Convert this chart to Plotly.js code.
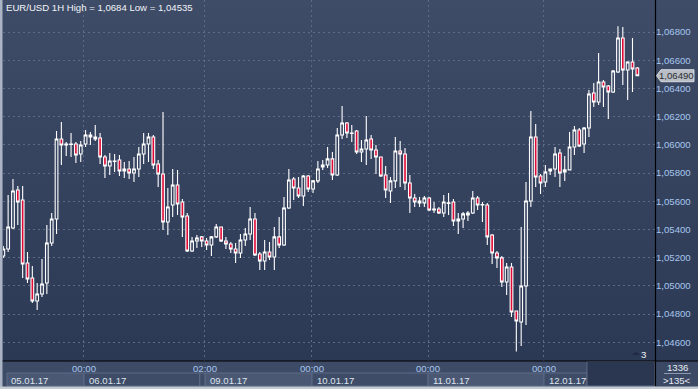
<!DOCTYPE html>
<html>
<head>
<meta charset="utf-8">
<script src="https://cdn.plot.ly/plotly-3.0.1.min.js"></script>
<style>
html,body{margin:0;padding:0;background:#3e4b66;}
#chart{width:698px;height:389px;}
</style>
</head>
<body>
<div id="chart"></div>
<script>
// ---- data (EUR/USD, 1H candles) ----
const open = [1.05212,1.05261,1.05410,1.05680,1.05609,1.05162,1.05056,1.04893,1.04942,1.05020,
1.05304,1.05474,1.06041,1.05999,1.06002,1.06006,1.05935,1.06006,1.06070,1.06055,
1.06048,1.05914,1.05850,1.05882,1.05892,1.05814,1.05829,1.05800,1.05829,1.05935,
1.06006,1.06055,1.05864,1.05793,1.05453,1.05573,1.05715,1.05595,1.05495,1.05247,
1.05318,1.05347,1.05318,1.05290,1.05347,1.05417,1.05318,1.05297,1.05261,1.05233,
1.05325,1.05368,1.05474,1.05226,1.05176,1.05240,1.05205,1.05347,1.05290,1.05552,
1.05758,1.05694,1.05637,1.05779,1.05687,1.05744,1.05843,1.05857,1.05900,1.05786,
1.06070,1.06155,1.06080,1.06098,1.05949,1.05970,1.06041,1.05963,1.05914,1.05786,
1.05673,1.05744,1.05956,1.05935,1.05729,1.05623,1.05602,1.05588,1.05623,1.05538,
1.05545,1.05517,1.05585,1.05595,1.05460,1.05474,1.05502,1.05517,1.05623,1.05573,
1.05573,1.05361,1.05233,1.05198,1.05027,1.05134,1.04822,1.04744,1.04999,1.05602,
1.06055,1.05779,1.05736,1.05814,1.05829,1.05942,1.05807,1.05822,1.05985,1.06105,
1.06006,1.06119,1.06367,1.06304,1.06445,1.06417,1.06375,1.06516,1.06757,1.06531,
1.06587,1.06545];
const high = [1.05283,1.05644,1.05758,1.05708,1.05708,1.05240,1.05141,1.05020,1.05191,1.05432,
1.05517,1.06098,1.06162,1.06020,1.06084,1.06020,1.06027,1.06105,1.06091,1.06141,
1.06084,1.05928,1.05942,1.05935,1.05928,1.05878,1.05885,1.05914,1.05985,1.06084,
1.06084,1.06070,1.05892,1.06233,1.05694,1.05829,1.05822,1.05616,1.05517,1.05347,
1.05361,1.05354,1.05339,1.05354,1.05439,1.05420,1.05347,1.05311,1.05304,1.05368,
1.05410,1.05559,1.05517,1.05240,1.05325,1.05311,1.05417,1.05488,1.05630,1.05829,
1.05772,1.05772,1.05786,1.05786,1.05750,1.05885,1.05892,1.05985,1.05949,1.06119,
1.06275,1.06162,1.06141,1.06105,1.06034,1.06204,1.06070,1.05999,1.05918,1.05850,
1.05772,1.06055,1.06027,1.05978,1.05786,1.05651,1.05630,1.05637,1.05630,1.05595,
1.05559,1.05644,1.05658,1.05616,1.05517,1.05524,1.05531,1.05673,1.05637,1.05595,
1.05588,1.05368,1.05247,1.05212,1.05162,1.05162,1.04825,1.05417,1.05736,1.06240,
1.06148,1.05793,1.05857,1.05832,1.05985,1.05970,1.05921,1.06091,1.06134,1.06119,
1.06126,1.06389,1.06438,1.06651,1.06460,1.06424,1.06531,1.06840,1.06835,1.06592,
1.06757,1.06552];
const low = [1.05198,1.05240,1.05403,1.05432,1.05056,1.05020,1.04879,1.04829,1.04921,1.04942,
1.05283,1.05368,1.05857,1.05921,1.05914,1.05871,1.05878,1.05985,1.05999,1.06027,
1.05864,1.05765,1.05786,1.05807,1.05779,1.05765,1.05758,1.05736,1.05772,1.05864,
1.05878,1.05829,1.05701,1.05396,1.05361,1.05488,1.05502,1.05347,1.05240,1.05240,
1.05269,1.05276,1.05254,1.05212,1.05339,1.05311,1.05261,1.05233,1.05162,1.05198,
1.05283,1.05325,1.05212,1.05113,1.05113,1.05183,1.05113,1.05269,1.05283,1.05545,
1.05609,1.05623,1.05566,1.05666,1.05658,1.05729,1.05822,1.05836,1.05751,1.05779,
1.06041,1.06048,1.06020,1.05935,1.05878,1.05857,1.05900,1.05793,1.05772,1.05623,
1.05588,1.05694,1.05701,1.05680,1.05517,1.05559,1.05559,1.05559,1.05531,1.05517,
1.05510,1.05488,1.05502,1.05425,1.05368,1.05410,1.05460,1.05510,1.05538,1.05453,
1.05290,1.05155,1.05127,1.04992,1.04935,1.04779,1.04535,1.04574,1.04723,1.05559,
1.05701,1.05651,1.05701,1.05786,1.05772,1.05701,1.05744,1.05818,1.05928,1.05985,
1.05942,1.06055,1.06268,1.06282,1.06268,1.06183,1.06367,1.06509,1.06424,1.06318,
1.06375,1.06488];
const close = [1.05261,1.05417,1.05673,1.05595,1.05155,1.05049,1.04893,1.04942,1.05013,1.05304,
1.05474,1.06041,1.05999,1.06006,1.06006,1.05928,1.05999,1.06070,1.06055,1.06041,
1.05914,1.05850,1.05885,1.05885,1.05814,1.05829,1.05800,1.05829,1.05935,1.06006,
1.06055,1.05857,1.05793,1.05453,1.05559,1.05715,1.05580,1.05488,1.05247,1.05318,
1.05339,1.05318,1.05290,1.05347,1.05417,1.05318,1.05297,1.05261,1.05233,1.05325,
1.05368,1.05474,1.05219,1.05176,1.05240,1.05205,1.05347,1.05290,1.05552,1.05751,
1.05694,1.05637,1.05779,1.05687,1.05744,1.05829,1.05857,1.05900,1.05786,1.06070,
1.06155,1.06084,1.06084,1.05949,1.05970,1.06034,1.05963,1.05914,1.05779,1.05680,
1.05744,1.05956,1.05935,1.05729,1.05623,1.05595,1.05588,1.05623,1.05538,1.05545,
1.05517,1.05595,1.05588,1.05460,1.05474,1.05510,1.05517,1.05623,1.05573,1.05576,
1.05347,1.05233,1.05198,1.05027,1.05134,1.04815,1.04751,1.04999,1.05602,1.06055,
1.05772,1.05729,1.05807,1.05829,1.05935,1.05800,1.05822,1.05985,1.06105,1.05992,
1.06119,1.06360,1.06304,1.06445,1.06410,1.06375,1.06523,1.06757,1.06531,1.06587,
1.06538,1.06490];

// price axis ticks
const priceTicks = [1.046,1.048,1.050,1.052,1.054,1.056,1.058,1.060,1.062,1.064,1.066,1.068];
// time axis: day-start positions (bar index) and labels
const timeTickPos = [16.67, 41.67, 63.78, 87.75, 111.71];
const timeTickText = ['00:00','02:00','00:00','00:00','00:00'];
// day boxes on the date row (bar index bounds) and their labels
const dayStart = [0.76, 16.67, 41.67, 63.78, 87.75, 111.71];
const dayEnd   = [16.67, 40.6, 63.78, 87.75, 111.71, 120.6];
const dayText  = ['05.01.17','06.01.17','09.01.17','10.01.17','11.01.17','12.01.17'];
const titleText = 'EUR/USD 1H High = 1,0684 Low = 1,04535';
const barsTotal = '1336';
const barsVisible = '>135<';

// ---- layout helpers (pixel -> paper) ----
const W = 698, H = 389, ML = 3, MR = 43, MT = 0, MB = 28;
const PW = W - ML - MR, PH = H - MT - MB;
const px = v => (v - ML) / PW;
const py = v => (MT + PH - v) / PH;

const xIdx = open.map((_, i) => i);

const trace = {
  type: 'candlestick',
  x: xIdx, open: open, high: high, low: low, close: close,
  increasing: {line: {color: '#ffffff', width: 1.1}, fillcolor: 'rgba(0,0,0,0)'},
  decreasing: {line: {color: '#ffffff', width: 1.1}, fillcolor: '#e00a36'},
  whiskerwidth: 0,
  hoverinfo: 'skip',
  showlegend: false
};

const grad = "data:image/svg+xml;utf8," + encodeURIComponent(
  "<svg xmlns='http://www.w3.org/2000/svg' width='10' height='100' preserveAspectRatio='none'>" +
  "<defs><linearGradient id='g' x1='0' y1='0' x2='0' y2='1'>" +
  "<stop offset='0' stop-color='#3f4c68'/><stop offset='1' stop-color='#2c3955'/></linearGradient></defs>" +
  "<rect width='10' height='100' fill='url(#g)'/></svg>");

const shapes = [];
// bottom strip background
shapes.push({type:'rect', xref:'paper', yref:'paper', x0:px(0), x1:px(698), y0:py(361), y1:py(386),
  fillcolor:'#3e4b66', line:{width:0}, layer:'below'});
// day boxes
dayText.forEach((t, i) => {
  shapes.push({type:'rect', xref:'x', yref:'paper', x0:dayStart[i], x1:dayEnd[i], y0:py(386), y1:py(373),
    fillcolor: (i % 2 === 0) ? '#4a5874' : '#3f4c67', line:{color:'#5d6b86', width:1}, layer:'below'});
});
// small gap box between 06.01 and 09.01
shapes.push({type:'rect', xref:'x', yref:'paper', x0:dayEnd[1], x1:dayStart[2], y0:py(386), y1:py(373),
  fillcolor:'#3f4c67', line:{color:'#5d6b86', width:1}, layer:'below'});
// dark empty zone right of the last day box
shapes.push({type:'rect', xref:'x', yref:'paper', x0:dayEnd[5], x1:134.65, y0:py(386), y1:py(361.5),
  fillcolor:'#2b3651', line:{color:'#5d6b86', width:1}, layer:'below'});
// bottom-right counter box
shapes.push({type:'rect', xref:'paper', yref:'paper', x0:px(655.5), x1:px(698), y0:py(386), y1:py(361.5),
  fillcolor:'#3c4965', line:{width:0}, layer:'below'});
shapes.push({type:'line', xref:'paper', yref:'paper', x0:px(664), x1:px(691), y0:py(373.5), y1:py(373.5),
  line:{color:'#8c9ab0', width:1}});
// black separators
shapes.push({type:'line', xref:'paper', yref:'paper', x0:px(0), x1:px(698), y0:py(361), y1:py(361),
  line:{color:'#000000', width:1.2}});
shapes.push({type:'line', xref:'paper', yref:'paper', x0:px(655.5), x1:px(655.5), y0:py(0), y1:py(386),
  line:{color:'#000000', width:1.2}});
// outer light frame (left and bottom)
shapes.push({type:'rect', xref:'paper', yref:'paper', x0:px(0), x1:px(2.5), y0:py(389), y1:py(0),
  fillcolor:'#aab4c4', line:{width:0}});
shapes.push({type:'rect', xref:'paper', yref:'paper', x0:px(0), x1:px(698), y0:py(389), y1:py(386.5),
  fillcolor:'#c4cad4', line:{width:0}});
// current price marker
const last = close[close.length - 1];
shapes.push({type:'path', xref:'paper', yref:'y', xsizemode:'pixel', ysizemode:'pixel',
  xanchor:1, yanchor:last, path:'M 1.5 0 L 6 6 L 39 6 L 39 -6 L 6 -6 Z',
  fillcolor:'#b9bdc5', line:{color:'#d6d9de', width:1}});
// small marker next to the "3"
shapes.push({type:'path', xref:'paper', yref:'paper', xsizemode:'pixel', ysizemode:'pixel',
  xanchor:px(636), yanchor:py(355), path:'M -4 0 L 4 0 L 0 3 Z',
  fillcolor:'#1f2a42', line:{width:0}});

const ann = [];
ann.push({text:titleText, xref:'paper', yref:'paper', x:px(4), y:py(7), xanchor:'left', yanchor:'middle',
  showarrow:false, font:{family:'Liberation Sans, Arial, sans-serif', size:9.6, color:'#f2f4f8'}});
dayText.forEach((t, i) => {
  ann.push({text:t, xref:'x', yref:'paper', x:dayStart[i], xshift: (i===0?2:3), y:py(380), xanchor:'left', yanchor:'middle',
    showarrow:false, font:{family:'Liberation Sans, Arial, sans-serif', size:9.6, color:'#dde4ee'}});
});
ann.push({text: last.toFixed(5).replace('.', ','), xref:'paper', yref:'y', x:px(676), y:last,
  xanchor:'center', yanchor:'middle', showarrow:false,
  font:{family:'Liberation Sans, Arial, sans-serif', size:9.6, color:'#2a2d33'}});
ann.push({text:'3', xref:'paper', yref:'paper', x:px(643), y:py(354), xanchor:'center', yanchor:'middle',
  showarrow:false, font:{family:'Liberation Sans, Arial, sans-serif', size:9.6, color:'#f0f2f6'}});
ann.push({text:barsTotal, xref:'paper', yref:'paper', x:px(677), y:py(367), xanchor:'center', yanchor:'middle',
  showarrow:false, font:{family:'Liberation Sans, Arial, sans-serif', size:9.6, color:'#e6ebf2'}});
ann.push({text:barsVisible, xref:'paper', yref:'paper', x:px(677), y:py(380), xanchor:'center', yanchor:'middle',
  showarrow:false, font:{family:'Liberation Sans, Arial, sans-serif', size:9.6, color:'#e6ebf2'}});

const layout = {
  width: W, height: H,
  margin: {l: ML, r: MR, t: MT, b: MB, pad: 0},
  paper_bgcolor: '#3e4b66',
  plot_bgcolor: 'rgba(0,0,0,0)',
  separators: ',.',
  showlegend: false,
  dragmode: false,
  boxgap: 0.2,
  images: [{source: grad, xref:'paper', yref:'paper', x: 0, y: 1, sizex: (W - ML) / PW, sizey: 1,
    sizing:'stretch', xanchor:'left', yanchor:'top', layer:'below'}],
  xaxis: {
    range: [-0.06, 134.65], rangeslider: {visible: false}, fixedrange: true,
    tickmode: 'array', tickvals: timeTickPos, ticktext: timeTickText,
    showgrid: true, gridcolor: '#5d6b87', griddash: '2px,3px', gridwidth: 1,
    zeroline: false, showline: false, ticks: '', ticklen: 0,
    tickfont: {family: 'Liberation Sans, Arial, sans-serif', size: 9.6, color: '#a6c6ee'}
  },
  yaxis: {
    side: 'right', range: [1.04467, 1.07027], fixedrange: true,
    tickmode: 'array', tickvals: priceTicks, tickformat: '.5f',
    showgrid: true, gridcolor: '#5d6b87', griddash: '2px,3px', gridwidth: 1,
    zeroline: false, showline: false, ticks: '', ticklen: 0,
    tickfont: {family: 'Liberation Sans, Arial, sans-serif', size: 9.6, color: '#a6c6ee'}
  },
  shapes: shapes,
  annotations: ann
};

Plotly.newPlot('chart', [trace], layout, {staticPlot: true, displayModeBar: false});
</script>
</body>
</html>
